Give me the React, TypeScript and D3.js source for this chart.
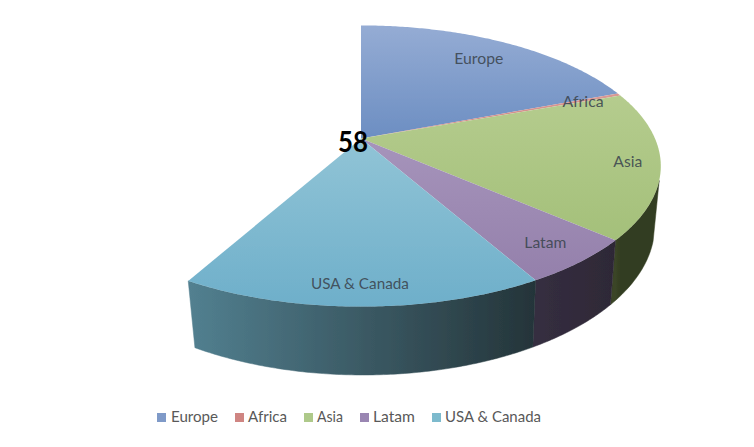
import React from "react";
import * as d3 from "d3";

const categories = ["Europe", "Africa", "Asia", "Latam", "USA & Canada"];
const seriesValues = [19.2, 0.3, 16.9, 5.4, 16.3];
const hiddenRemainder = [41.9];
const totalLabel = "58";
const topColors = [
  ["#95acd4", "#6c8ec2"],
  ["#d99a96", "#d08682"],
  ["#b5cc8e", "#a4c07a"],
  ["#a694bb", "#9480ab"],
  ["#91c4d6", "#6eafca"],
];
const sideColors = [
  ["#3f5270", "#3f5270"],
  ["#6e4442", "#6e4442"],
  ["#3a4526", "#333d20"],
  ["#352e40", "#2e2836"],
  ["#528090", "#243439"],
];
const legendColors = ["#7f9ac8", "#cf8582", "#aec98a", "#9a86b2", "#7dbacd"];
const legendSquareX = [157, 235, 304, 360, 432];
const legendTextX = [171, 248, 317, 373, 445];
const legendTextLen = [47, 39, 26, 42, 96];
const labelRadius = [0.805, 0.82, 0.9, 0.87, 0.89];
const labelDx = [-1, 8, -2, -2, -2];
const labelLen = [49, 41, 29, 42, 98];

const W = 754;
const H = 447;
const FONT = "Lato,'Open Sans',sans-serif";

// Perspective projection of the pie's unit disc to the screen.
const K = -0.1957;
const top3d = { cx: 361, c: 294, b: 138.5, a: 108.1 };
const bot3d = { cx: 363, c: 286, b: 196.6, a: 105 };
const SIDE_TANGENT = (107 * Math.PI) / 180;
function project(theta: number, r: number, p: typeof top3d) {
  const u = Math.sin(theta) * r;
  const v = -Math.cos(theta) * r;
  const d = 1 + K * v;
  return [p.cx + (p.c * u) / d, (p.b + p.a * v) / d] as [number, number];
}

export default function App() {
  const pie = d3.pie<number>().sort(null).value((d) => d);
  const arcs = pie([...seriesValues, ...hiddenRemainder]).slice(0, seriesValues.length);
  const line = d3.line();

  const rim = (a0: number, a1: number, p: typeof top3d) => {
    const n = Math.max(2, Math.ceil((a1 - a0) / 0.01));
    return d3.range(n + 1).map((i) => project(a0 + ((a1 - a0) * i) / n, 1, p));
  };

  const topY0 = project(0, 1, top3d)[1];
  const topY1 = project(Math.PI, 1, top3d)[1];

  return (
    <svg width={W} height={H} style={{ position: "fixed", left: 0, top: 0, background: "#fff" }}>
      <defs>
        {arcs.map((a, i) => (
          <linearGradient key={i} id={`t${i}`} gradientUnits="userSpaceOnUse" x1={0} x2={0}
            y1={i === 0 ? topY0 : i === 4 ? top3d.b : i === 3 ? top3d.b : i === 2 ? 95 : 90}
            y2={i === 0 ? top3d.b : i === 4 ? topY1 : i === 3 ? 280 : i === 2 ? 240 : 140}>
            <stop offset="0" stopColor={topColors[i][0]} />
            <stop offset="1" stopColor={topColors[i][1]} />
          </linearGradient>
        ))}
        {arcs.map((a, i) => {
          const x0 = project(a.startAngle, 1, top3d)[0];
          const x1 = project(a.endAngle, 1, top3d)[0];
          return (
            <linearGradient key={i} id={`s${i}`} gradientUnits="userSpaceOnUse" y1={0} y2={0} x1={x1} x2={x0}>
              <stop offset="0" stopColor={sideColors[i][0]} />
              <stop offset="1" stopColor={sideColors[i][1]} />
            </linearGradient>
          );
        })}
        <filter id="soft" x="-5%" y="-5%" width="110%" height="110%">
          <feGaussianBlur stdDeviation="0.45" />
        </filter>
      </defs>
      <g filter="url(#soft)">
        {arcs.map((a, i) => {
          const start = Math.max(a.startAngle, SIDE_TANGENT);
          if (start >= a.endAngle) return null;
          const pts = [...rim(start, a.endAngle, top3d), ...rim(start, a.endAngle, bot3d).reverse()];
          return <path key={i} d={(line(pts) || "") + "Z"} fill={`url(#s${i})`} stroke={`url(#s${i})`} strokeWidth={0.5} />;
        })}
        {arcs.map((a, i) => {
          const pts = [[top3d.cx, top3d.b] as [number, number], ...rim(a.startAngle, a.endAngle, top3d)];
          return <path key={i} d={(line(pts) || "") + "Z"} fill={`url(#t${i})`} />;
        })}
      </g>
      {arcs.map((a, i) => {
        const [x, y] = project((a.startAngle + a.endAngle) / 2, labelRadius[i], top3d);
        return (
          <text key={i} x={x + labelDx[i]} y={y + 5} textAnchor="middle" fontFamily={FONT} fontSize={15}
            fill="#3c4650" fillOpacity={0.9} textLength={labelLen[i]} lengthAdjust="spacingAndGlyphs">
            {categories[i]}
          </text>
        );
      })}
      <text x={top3d.cx - 23} y={152} fontFamily={FONT} fontSize={28} fontWeight={700} fill="#000"
        textLength={30} lengthAdjust="spacingAndGlyphs">
        {totalLabel}
      </text>
      {categories.map((c, i) => (
        <g key={c}>
          <rect x={legendSquareX[i]} y={413} width={9} height={9} fill={legendColors[i]} />
          <text x={legendTextX[i]} y={422} fontFamily={FONT} fontSize={15} fill="#595959"
            textLength={legendTextLen[i]} lengthAdjust="spacingAndGlyphs">
            {c}
          </text>
        </g>
      ))}
    </svg>
  );
}
